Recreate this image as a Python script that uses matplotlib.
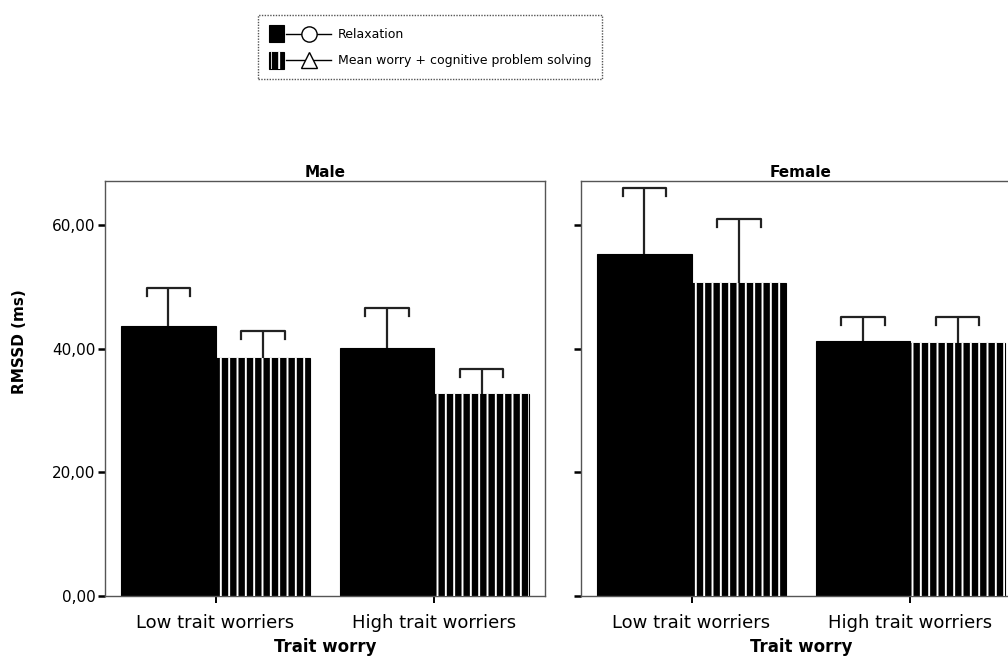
import matplotlib

matplotlib.use("Agg")
import matplotlib.pyplot as plt
from matplotlib.legend_handler import HandlerBase
from matplotlib.lines import Line2D
from matplotlib.patches import Rectangle

plt.rcParams["font.family"] = ["DejaVu Sans"]
plt.rcParams["hatch.linewidth"] = 1.4

groups = ["Low trait worriers", "High trait worriers"]
panels = ["Male", "Female"]
conditions = ["Relaxation", "Mean worry + cognitive problem solving"]

male_relax = [43.7, 40.1]
male_relax_err = [6.1, 6.6]
male_worry = [38.5, 32.7]
male_worry_err = [4.4, 4.0]
female_relax = [55.3, 41.3]
female_relax_err = [10.7, 3.9]
female_worry = [50.7, 41.0]
female_worry_err = [10.3, 4.2]

yticks = [0, 20, 40, 60]

BAR_W = 0.43
CAP_HW = 0.1
HOOK = 1.3
SPINE = "#555555"


def draw_bars(ax, xs, means, errs, hatched):
    ax.bar(xs, means, BAR_W, color="black", edgecolor="black", linewidth=0.8, zorder=2)
    if hatched:
        ax.bar(xs, means, BAR_W, facecolor="none", edgecolor="white", hatch="||",
               linewidth=0, zorder=3)
    for x, m, e in zip(xs, means, errs):
        top = m + e
        ax.plot([x, x], [m, top], color="#222222", lw=1.6, zorder=4, solid_capstyle="butt")
        ax.plot([x - CAP_HW, x - CAP_HW, x + CAP_HW, x + CAP_HW],
                [top - HOOK, top, top, top - HOOK], color="#222222", lw=1.6, zorder=4)


class SquareLineHandler(HandlerBase):
    def create_artists(self, legend, orig_handle, xdescent, ydescent, width, height,
                       fontsize, trans):
        hatched, marker = orig_handle
        size = height
        x0, y0 = -xdescent, -ydescent
        arts = [Rectangle((x0, y0), size * 0.92, size, facecolor="black", edgecolor="black",
                          linewidth=0.8, transform=trans)]
        if hatched:
            arts.append(Rectangle((x0 + 1.5, y0), size * 0.92 - 3, size, facecolor="none",
                                  edgecolor="white", hatch="||", linewidth=0,
                                  transform=trans))
        ymid = y0 + size / 2
        lx = x0 + size * 0.92 + 1.5
        arts.append(Line2D([lx, x0 + width], [ymid, ymid], color="black",
                           lw=1.0, transform=trans))
        xm = lx + (x0 + width - lx) / 2
        arts.append(Line2D([xm], [ymid], marker=marker, markersize=11,
                           markerfacecolor="white", markeredgecolor="black",
                           markeredgewidth=1.0, linestyle="none", transform=trans))
        return arts


fig = plt.figure(figsize=(10.08, 6.65), dpi=100)
ax_w = 440 / 1008
ax_h = (596 - 181) / 665
ax_b = 1 - 596 / 665
axes = [fig.add_axes([105 / 1008, ax_b, ax_w, ax_h]),
        fig.add_axes([581 / 1008, ax_b, ax_w, ax_h])]

data = [(male_relax, male_relax_err, male_worry, male_worry_err),
        (female_relax, female_relax_err, female_worry, female_worry_err)]

for i, (ax, title, (r, re, w, we)) in enumerate(zip(axes, panels, data)):
    pos = list(range(len(groups)))
    draw_bars(ax, [p - BAR_W / 2 for p in pos], r, re, False)
    draw_bars(ax, [p + BAR_W / 2 for p in pos], w, we, True)
    ax.set_xlim(-0.505, 1.505)
    ax.set_ylim(0, 67.2)
    ax.set_xticks(pos)
    ax.set_xticklabels(groups, fontsize=13)
    ax.set_yticks(yticks)
    if i == 0:
        ax.set_yticklabels([f"{v:.2f}".replace(".", ",") for v in yticks], fontsize=11)
    else:
        ax.set_yticklabels([])
    ax.tick_params(axis="y", length=5, width=1.8, color="black", pad=2)
    ax.tick_params(axis="x", length=5, width=1.4, color="black", pad=8)
    for sp in ax.spines.values():
        sp.set_color(SPINE)
        sp.set_linewidth(1.0)
    ax.set_title(title, fontsize=11, fontweight="bold", pad=3)
    ax.set_xlabel("Trait worry", fontsize=12, fontweight="bold", labelpad=4)

fig.text(20 / 1008, 1 - 342 / 665, "RMSSD (ms)", rotation=90, fontsize=11,
         fontweight="bold", ha="center", va="center")

leg = fig.legend([(False, "o"), (True, "^")], conditions,
                 handler_map={tuple: SquareLineHandler()},
                 loc="center", bbox_to_anchor=(430 / 1008, 1 - 47 / 665),
                 fontsize=9, handlelength=5.0, handleheight=1.7, handletextpad=0.5,
                 labelspacing=0.75, borderpad=0.85, fancybox=False, framealpha=1)
frame = leg.get_frame()
frame.set_edgecolor("#555555")
frame.set_linewidth(1.0)
frame.set_linestyle((0, (1, 1)))

fig.savefig("out.png", dpi=100)
